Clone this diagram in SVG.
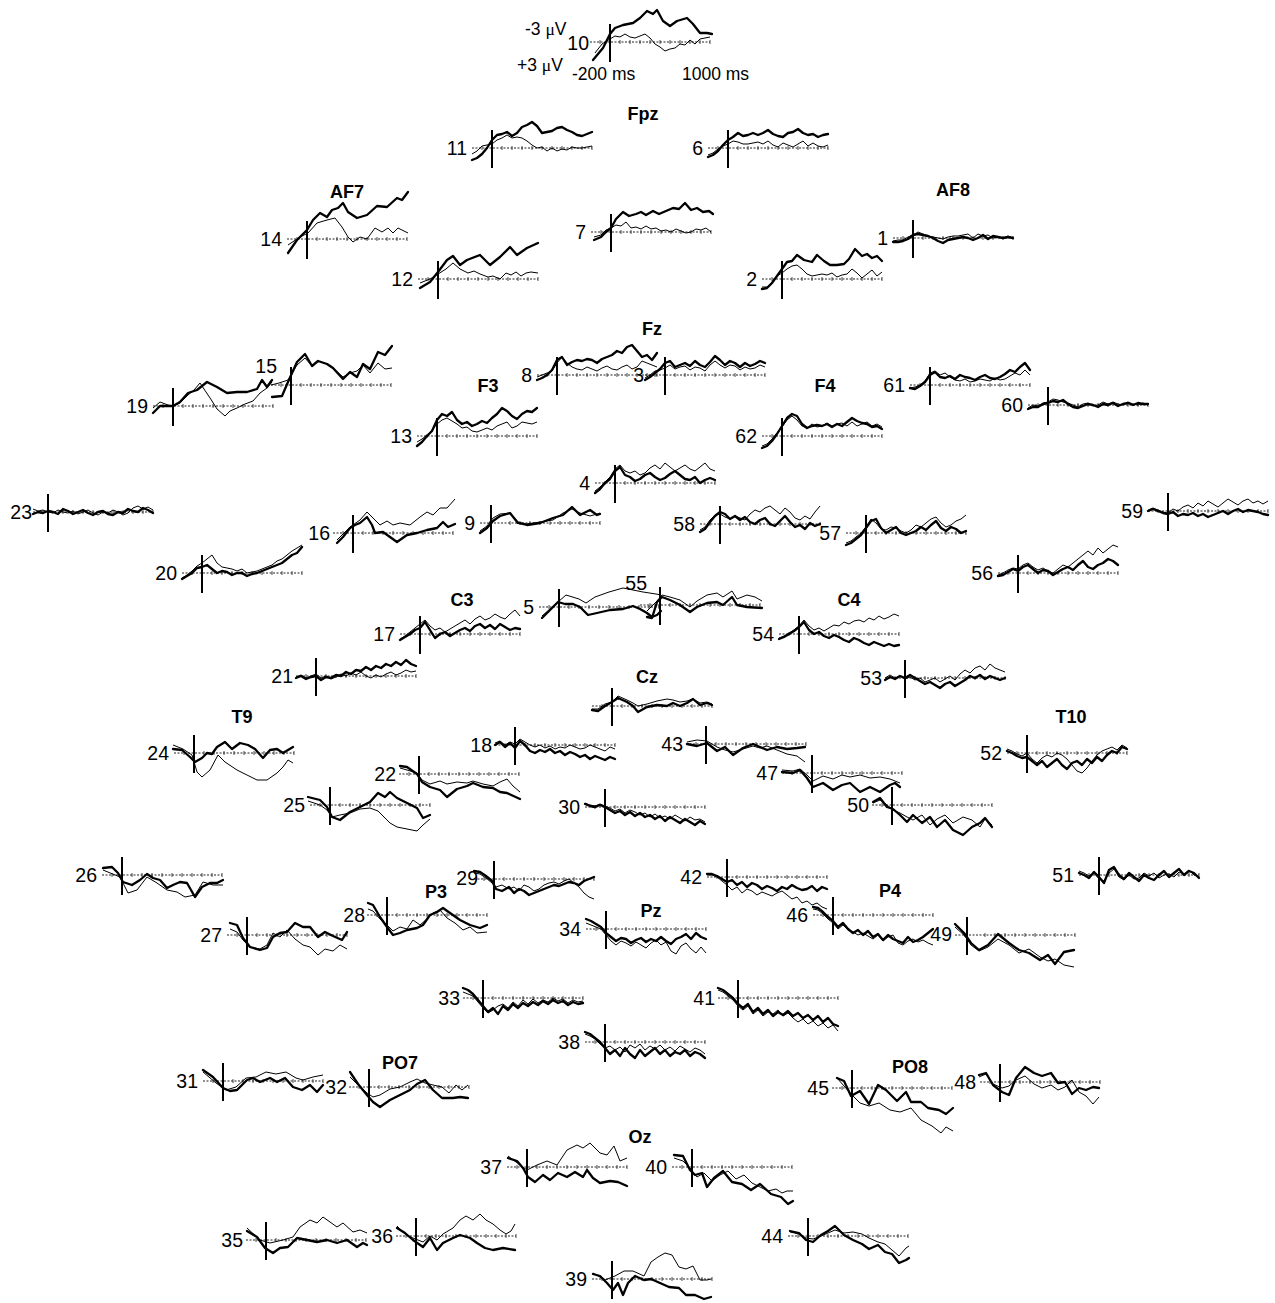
<svg xmlns="http://www.w3.org/2000/svg" xmlns:xlink="http://www.w3.org/1999/xlink" width="1275" height="1303" viewBox="0 0 1275 1303">
<style>
.k{fill:none;stroke:#000;stroke-width:2.3;stroke-linejoin:round;stroke-linecap:round}
.n{fill:none;stroke:#000;stroke-width:1;stroke-linejoin:round}
.l{font-family:"Liberation Sans",Arial,sans-serif;font-size:19.5px;text-anchor:end;fill:#000}
.h{font-family:"Liberation Sans",Arial,sans-serif;font-size:18px;font-weight:bold;text-anchor:middle;fill:#000}
.t{font-family:"Liberation Sans",Arial,sans-serif;font-size:17.5px;fill:#000}
.g{font-family:"Liberation Serif","Times New Roman",serif}
</style>
<defs>
<g id="b"><path d="M0 0H120" fill="none" stroke="#222" stroke-width="1" stroke-dasharray="2 1.5"/><path d="M10-2v4M30-2v4M40-2v4M50-2v4M60-2v4M70-2v4M80-2v4M90-2v4M100-2v4M110-2v4M120-2v4" stroke="#222" stroke-width="0.8"/></g>
<path id="z" d="M0-18V20" stroke="#000" stroke-width="2"/>
</defs>
<rect width="1275" height="1303" fill="#fff"/>
<g id="legend">
<text class="t" x="525" y="35">-3 <tspan class="g">μ</tspan>V</text>
<text class="t" x="517" y="71">+3 <tspan class="g">μ</tspan>V</text>
<text class="t" x="572" y="80">-200 ms</text>
<text class="t" x="682" y="80">1000 ms</text>
</g>
<g id="headlabels">
<text class="h" x="643" y="120">Fpz</text>
<text class="h" x="347" y="198">AF7</text>
<text class="h" x="953" y="196">AF8</text>
<text class="h" x="652" y="335">Fz</text>
<text class="h" x="488" y="392">F3</text>
<text class="h" x="825" y="392">F4</text>
<text class="h" x="462" y="606">C3</text>
<text class="h" x="849" y="606">C4</text>
<text class="h" x="647" y="683">Cz</text>
<text class="h" x="242" y="723">T9</text>
<text class="h" x="1071" y="723">T10</text>
<text class="h" x="436" y="898">P3</text>
<text class="h" x="651" y="917">Pz</text>
<text class="h" x="890" y="897">P4</text>
<text class="h" x="400" y="1069">PO7</text>
<text class="h" x="910" y="1073">PO8</text>
<text class="h" x="640" y="1143">Oz</text>
</g>
<g id="connectors"></g>
<g id="e10" transform="translate(590,42)"><use href="#b"/><use href="#z" x="20"/><path class="k" d="M3 18 13 6 20 -8 25 -14 33 -17 43 -19 50 -24 57 -31 63 -28 67 -32 73 -21 80 -16 87 -21 97 -24 103 -18 110 -9 117 -9 122 -8"/><path class="n" d="M5 11 12 2 20 -3 25 -6 30 -5 35 -8 40 -5 45 -4 50 -6 55 -8 60 -4 65 2 70 5 75 9 80 7 85 6 90 2 95 3 100 -2 105 2 110 -3 115 -4 120 -5"/><text class="l" x="-1" y="8">10</text></g>
<g id="e11" transform="translate(472,148)"><use href="#b"/><use href="#z" x="20"/><path class="k" d="M0 12 5 10 10 6 15 0 20 -8 25 -13 30 -14 35 -16 40 -12 45 -15 50 -21 55 -23 60 -26 65 -22 70 -15 75 -16 80 -17 85 -20 90 -21 95 -18 100 -16 105 -13 110 -12 115 -14 120 -16"/><path class="n" d="M0 6 5 3 10 -2 15 -3 20 -4 25 -8 30 -10 35 -13 40 -10 45 -11 50 -10 55 -7 60 -3 65 0 70 -1 75 3 80 0 85 3 90 1 95 2 100 -1 105 0 110 0 115 -1 120 -2"/><text class="l" x="-5" y="7">11</text></g>
<g id="e6" transform="translate(708,148)"><use href="#b"/><use href="#z" x="20"/><path class="k" d="M0 9 5 7 10 3 15 -3 20 -8 25 -11 30 -15 35 -12 40 -13 45 -15 50 -13 55 -15 60 -18 65 -14 70 -12 75 -11 80 -15 85 -16 90 -19 95 -15 100 -13 105 -14 110 -11 115 -13 120 -14"/><path class="n" d="M0 7 5 5 10 1 15 -2 20 -4 25 -7 30 -6 35 -4 40 -4 45 -5 50 -6 55 -4 60 -7 65 -3 70 -1 75 -5 80 -3 85 -1 90 -4 95 -7 100 -2 105 -5 110 -2 115 -1 120 -3"/><text class="l" x="-5" y="7">6</text></g>
<g id="e14" transform="translate(287,239)"><use href="#b"/><use href="#z" x="20"/><path class="k" d="M1 14 10 1 20 -9 26 -19 33 -26 40 -22 45 -29 51 -31 56 -36 61 -27 70 -21 80 -24 90 -33 100 -32 110 -41 115 -39 121 -47"/><path class="n" d="M1 6 13 -2 21 -6 30 -16 40 -19 48 -21 55 -12 61 -2 66 3 73 -2 80 0 88 -11 95 -7 101 -11 106 -6 111 -11 121 -6"/><text class="l" x="-5" y="7">14</text></g>
<g id="e12" transform="translate(418,279)"><use href="#b"/><use href="#z" x="20"/><path class="k" d="M2 9 12 3 20 -7 29 -19 35 -23 42 -14 49 -19 62 -24 72 -14 82 -22 92 -32 99 -24 109 -31 120 -36"/><path class="n" d="M2 4 12 0 20 -5 28 -10 35 -16 42 -10 50 -6 56 -8 62 -5 70 -2 75 -3 82 0 88 -6 93 -4 98 -7 103 -3 108 -6 113 -7 120 -6"/><text class="l" x="-5" y="7">12</text></g>
<g id="e7" transform="translate(591,232)"><use href="#b"/><use href="#z" x="20"/><path class="k" d="M3 8 10 5 15 0 20 -4 25 -13 32 -20 38 -16 45 -18 50 -20 55 -17 62 -21 68 -18 75 -21 82 -24 88 -23 94 -29 100 -22 106 -24 112 -20 118 -21 122 -18"/><path class="n" d="M3 5 10 3 15 -2 20 -4 25 -7 30 -6 35 -10 40 -4 45 -5 50 -3 55 -6 60 -3 65 -4 70 -1 75 -2 80 0 85 -3 90 -1 95 1 100 0 105 -3 110 -2 115 -4 120 0"/><text class="l" x="-5" y="7">7</text></g>
<g id="e1" transform="translate(893,238)"><use href="#b"/><use href="#z" x="20"/><path class="k" d="M0 4 5 4 10 3 15 1 20 -3 25 -4 30 -3 35 -2 40 0 45 3 50 5 55 2 60 1 65 0 70 -1 75 0 80 2 85 0 90 -3 95 1 100 -2 105 -1 110 0 115 -1 120 0"/><path class="n" d="M0 3 5 2 10 2 15 -1 20 -3 25 -6 30 -4 35 -2 40 -1 45 0 50 1 55 -1 60 -2 65 -2 70 -3 75 -4 80 0 85 -4 90 -2 95 -3 100 0 105 -1 110 0 115 -2 120 0"/><text class="l" x="-5" y="7">1</text></g>
<g id="e2" transform="translate(762,279)"><use href="#b"/><use href="#z" x="20"/><path class="k" d="M0 10 5 9 10 4 15 -3 20 -10 25 -17 30 -18 35 -24 42 -19 50 -17 55 -24 62 -18 68 -14 75 -14 82 -15 87 -20 93 -30 100 -23 105 -25 110 -21 115 -23 120 -18"/><path class="n" d="M0 8 5 8 10 3 15 -3 20 -6 25 -10 30 -13 35 -14 40 -10 45 -5 50 -3 55 -4 60 -5 65 -4 70 -6 75 -2 80 -4 85 -5 90 -10 95 -6 100 -1 105 -5 110 -9 115 -3 120 -7"/><text class="l" x="-5" y="7">2</text></g>
<g id="e19" transform="translate(153,406)"><use href="#b"/><use href="#z" x="20"/><path class="k" d="M0 7 7 0 20 0 27 -4 35 -13 44 -16 54 -24 64 -19 74 -13 84 -14 94 -14 104 -17 109 -26 114 -19 119 -26"/><path class="n" d="M0 2 7 -4 15 -1 20 0 27 -3 35 -11 41 -16 47 -23 53 -14 59 -5 64 3 72 10 77 5 84 2 92 -2 100 -5 107 -13 114 -18 119 -24"/><text class="l" x="-5" y="7">19</text></g>
<g id="e15" transform="translate(271,385)"><use href="#b"/><use href="#z" x="20"/><path class="k" d="M1 12 11 11 17 -3 26 -23 34 -31 41 -19 47 -24 56 -21 62 -17 72 -6 79 -13 86 -8 92 -21 99 -16 107 -33 114 -30 121 -39"/><path class="n" d="M0 0 8 -2 17 -5 26 -20 34 -27 41 -19 47 -24 56 -21 62 -17 72 -8 79 -12 86 -14 92 -20 99 -12 107 -22 114 -16 121 -17"/><text class="l" x="6" y="-12">15</text></g>
<g id="e8" transform="translate(537,375)"><use href="#b"/><use href="#z" x="20"/><path class="k" d="M0 5 5 3 10 0 15 -5 20 -15 25 -18 30 -10 35 -13 40 -15 45 -14 50 -16 55 -15 60 -12 65 -16 70 -18 75 -20 80 -24 85 -22 90 -28 95 -30 100 -24 105 -18 110 -20 115 -15 120 -22"/><path class="n" d="M0 2 5 0 10 -2 15 -4 20 -12 25 -18 30 -12 35 -8 40 -6 45 -5 50 -8 55 -6 60 -4 65 -7 70 -9 75 -6 80 -5 85 -8 90 -10 95 -6 100 -8 105 -14 110 -12 115 -10 120 -8"/><text class="l" x="-5" y="7">8</text></g>
<g id="e3" transform="translate(645,375)"><use href="#b"/><use href="#z" x="20"/><path class="k" d="M0 5 5 2 10 -2 15 -6 20 -12 25 -14 30 -8 35 -10 40 -12 45 -9 50 -14 55 -10 60 -8 65 -13 70 -19 75 -15 80 -10 85 -14 90 -12 95 -8 100 -12 105 -9 110 -11 115 -14 120 -12"/><path class="n" d="M0 3 5 0 10 -4 15 -5 20 -7 25 -10 30 -6 35 -8 40 -9 45 -5 50 -8 55 -7 60 -4 65 -10 70 -14 75 -10 80 -7 85 -10 90 -9 95 -5 100 -8 105 -6 110 -7 115 -10 120 -8"/><text class="l" x="-1" y="7">3</text></g>
<g id="e61" transform="translate(910,385)"><use href="#b"/><use href="#z" x="20"/><path class="k" d="M0 3 5 4 10 1 15 -3 20 -10 25 -13 30 -8 35 -7 40 -9 45 -6 50 -10 55 -8 60 -7 65 -5 70 -8 75 -10 80 -7 85 -6 90 -8 95 -11 100 -15 105 -13 110 -18 115 -22 120 -15"/><path class="n" d="M0 3 5 2 10 0 15 -4 20 -12 25 -14 30 -10 35 -12 40 -8 45 -5 50 -4 55 -6 60 -3 65 -4 70 -6 75 -5 80 -4 85 -7 90 -5 95 -6 100 -9 105 -12 110 -10 115 -15 120 -10"/><text class="l" x="-5" y="7">61</text></g>
<g id="e60" transform="translate(1028,405)"><use href="#b"/><use href="#z" x="20"/><path class="k" d="M0 4 5 2 10 2 15 -1 20 -2 25 -4 30 -3 35 -5 40 -1 45 2 50 3 55 1 60 -1 65 0 70 2 75 -1 80 0 85 -2 90 1 95 -1 100 -2 105 0 110 -2 115 -1 120 -1"/><path class="n" d="M0 3 5 0 10 1 15 -2 20 -3 25 -6 30 -5 35 -3 40 -2 45 0 50 2 55 -1 60 -2 65 1 70 0 75 -3 80 -1 85 -3 90 -1 95 0 100 -3 105 -1 110 0 115 -2 120 0"/><text class="l" x="-5" y="7">60</text></g>
<g id="e13" transform="translate(417,436)"><use href="#b"/><use href="#z" x="20"/><path class="k" d="M0 10 5 6 10 0 15 -5 20 -16 25 -22 30 -20 35 -24 40 -16 45 -12 50 -14 55 -10 60 -12 65 -15 70 -13 75 -18 80 -22 85 -28 90 -25 95 -20 100 -17 105 -22 110 -25 115 -24 120 -28"/><path class="n" d="M0 6 5 3 10 -1 15 -6 20 -12 25 -16 30 -18 35 -15 40 -12 45 -8 50 -9 55 -5 60 -4 65 -6 70 -8 75 -6 80 -10 85 -12 90 -14 95 -8 100 -10 105 -14 110 -13 115 -12 120 -14"/><text class="l" x="-5" y="7">13</text></g>
<g id="e62" transform="translate(762,436)"><use href="#b"/><use href="#z" x="20"/><path class="k" d="M0 12 5 10 10 5 15 -2 20 -10 25 -18 30 -22 35 -20 40 -12 45 -8 50 -10 55 -11 60 -10 65 -12 70 -9 75 -12 80 -10 85 -14 90 -18 95 -15 100 -13 105 -12 110 -9 115 -10 120 -7"/><path class="n" d="M0 10 5 8 10 3 15 -3 20 -9 25 -16 30 -20 35 -16 40 -10 45 -8 50 -12 55 -9 60 -10 65 -13 70 -10 75 -12 80 -13 85 -10 90 -14 95 -10 100 -12 105 -14 110 -10 115 -12 120 -9"/><text class="l" x="-5" y="7">62</text></g>
<g id="e4" transform="translate(595,483)"><use href="#b"/><use href="#z" x="20"/><path class="k" d="M0 10 5 6 10 0 15 -4 20 -12 25 -16 30 -8 35 -6 40 -2 45 -4 50 -8 55 -10 60 -6 65 -3 70 -5 75 -9 80 -12 85 -8 90 -4 95 -3 100 -6 105 0 110 -3 115 -5 120 -3"/><path class="n" d="M0 8 5 4 10 -1 15 -6 20 -14 25 -18 30 -12 35 -10 40 -12 45 -8 50 -10 55 -15 60 -18 65 -14 70 -20 75 -16 80 -12 85 -15 90 -18 95 -14 100 -12 105 -16 110 -20 115 -14 120 -12"/><text class="l" x="-5" y="7">4</text></g>
<g id="e23" transform="translate(33,512)"><use href="#b"/><use href="#z" x="15"/><path class="k" d="M0 2 5 0 10 1 15 -1 20 0 25 2 30 -3 35 -1 40 2 45 0 50 -2 55 1 60 3 65 0 70 -1 75 2 80 3 85 0 90 1 95 -3 100 -1 105 0 110 -4 115 -2 120 1"/><path class="n" d="M0 -3 5 -1 10 -2 15 0 20 1 25 -2 30 0 35 1 40 -1 45 2 50 0 55 -2 60 1 65 3 70 0 75 1 80 -2 85 0 90 3 95 1 100 -4 105 -6 110 -3 115 -5 120 -2"/><text class="l" x="-1" y="7">23</text></g>
<g id="e59" transform="translate(1148,511)"><use href="#b"/><use href="#z" x="20"/><path class="k" d="M0 0 5 -2 10 0 15 2 20 3 25 1 30 5 35 3 40 4 45 2 50 5 55 3 60 6 65 4 70 2 75 0 80 3 85 0 90 -2 95 1 100 -1 105 0 110 1 115 3 120 4"/><path class="n" d="M0 -1 5 -3 10 -1 15 1 20 2 25 -2 30 0 35 -4 40 -6 45 -3 50 -8 55 -5 60 -10 65 -7 70 -4 75 -8 80 -12 85 -9 90 -6 95 -10 100 -12 105 -8 110 -10 115 -7 120 -10"/><text class="l" x="-5" y="7">59</text></g>
<g id="e16" transform="translate(333,533)"><use href="#b"/><use href="#z" x="20"/><path class="k" d="M4 10 10 4 17 -5 22 -8 27 -10 34 -16 39 -8 42 0 50 -1 57 4 64 9 74 2 84 0 94 -3 104 -5 110 -11 115 -6 122 -9"/><path class="n" d="M4 7 17 -6 27 -13 34 -21 39 -16 47 -8 54 -12 60 -8 67 -10 77 -8 87 -16 94 -21 100 -18 107 -25 114 -25 122 -34"/><text class="l" x="-3" y="7">16</text></g>
<g id="e9" transform="translate(480,523)"><use href="#b"/><use href="#z" x="11"/><path class="k" d="M0 10 7 5 13 -2 20 -7 30 -10 38 0 47 2 60 0 73 -5 83 -8 92 -16 100 -8 110 -13 117 -8 120 -9"/><path class="n" d="M0 8 7 3 13 -5 20 -9 30 -10 38 -1 47 1 60 -1 73 -3 83 -10 92 -14 100 -10 110 -7 117 -9 120 -10"/><text class="l" x="-5" y="7">9</text></g>
<g id="e58" transform="translate(700,524)"><use href="#b"/><use href="#z" x="20"/><path class="k" d="M0 8 5 5 10 -2 15 -8 20 -12 25 -10 30 -5 35 -8 40 -4 45 -7 50 -2 55 0 60 -4 65 -6 70 0 75 2 80 -3 85 -8 90 -2 95 3 100 1 105 5 110 -1 115 2 120 0"/><path class="n" d="M0 6 5 3 10 -4 15 -9 20 -10 25 -7 30 -5 35 -8 40 -6 45 -4 50 -10 55 -14 60 -12 65 -16 70 -18 75 -14 80 -10 85 -16 90 -12 95 -6 100 -4 105 -8 110 -5 115 -12 120 -18"/><text class="l" x="-5" y="7">58</text></g>
<g id="e57" transform="translate(846,533)"><use href="#b"/><use href="#z" x="20"/><path class="k" d="M0 12 5 10 10 6 15 2 20 -5 25 -12 30 -14 35 -5 40 0 45 -3 50 -6 55 0 60 2 65 0 70 -2 75 -6 80 -3 85 -8 90 -12 95 -5 100 -2 105 -6 110 -4 115 0 120 -2"/><path class="n" d="M0 10 5 8 10 4 15 0 20 -6 25 -14 30 -10 35 -4 40 -3 45 -6 50 -5 55 -2 60 0 65 -3 70 -8 75 -6 80 -10 85 -14 90 -16 95 -10 100 -6 105 -8 110 -12 115 -14 120 -18"/><text class="l" x="-5" y="7">57</text></g>
<g id="e20" transform="translate(182,573)"><use href="#b"/><use href="#z" x="20"/><path class="k" d="M0 6 5 3 10 0 15 -5 20 -6 25 -8 30 -4 35 0 40 -2 45 -1 50 2 55 0 60 0 65 3 70 1 75 0 80 -2 85 -4 90 -6 95 -8 100 -10 105 -14 110 -18 115 -20 120 -26"/><path class="n" d="M0 5 5 2 10 -2 15 -7 20 -10 25 -14 30 -18 35 -10 40 -6 45 -5 50 -4 55 -2 60 -4 65 0 70 -1 75 -2 80 -4 85 -6 90 -8 95 -12 100 -14 105 -18 110 -22 115 -25 120 -28"/><text class="l" x="-5" y="7">20</text></g>
<g id="e56" transform="translate(998,573)"><use href="#b"/><use href="#z" x="20"/><path class="k" d="M0 3 5 2 10 -1 15 -4 20 -2 25 -6 30 -8 35 -4 40 0 45 -3 50 -2 55 2 60 -1 65 -4 70 -6 75 -3 80 -8 85 -12 90 -6 95 -4 100 -8 105 -10 110 -14 115 -12 120 -8"/><path class="n" d="M0 2 5 0 10 -3 15 -5 20 -4 25 -8 30 -10 35 -6 40 -3 45 -5 50 -2 55 0 60 -4 65 -8 70 -6 75 -10 80 -14 85 -18 90 -22 95 -18 100 -25 105 -20 110 -24 115 -28 120 -26"/><text class="l" x="-5" y="7">56</text></g>
<g id="e5" transform="translate(539,607)"><use href="#b"/><use href="#z" x="20"/><path class="k" d="M3 11 11 3 19 -5 26 -3 34 -3 41 0 49 8 58 6 71 3 84 2 94 -1 101 2 108 6 113 10 118 8 122 4"/><path class="n" d="M3 9 19 -5 27 -12 40 -8 47 -4 56 -10 70 -15 84 -19 94 -17 104 -15 117 -13 122 -12"/><text class="l" x="-5" y="7">5</text></g>
<g id="e55" transform="translate(640,605)"><use href="#b"/><use href="#z" x="20"/><path class="k" d="M7 12 12 13 17 -3 22 -8 30 -5 40 0 50 7 57 2 67 -2 77 -3 83 0 92 -8 97 0 107 2 122 3"/><path class="n" d="M7 6 17 -4 22 -10 30 -8 40 -5 50 2 57 -4 67 -10 77 -12 83 -8 92 -14 97 -6 107 -10 115 -8 122 -4"/><text class="l" x="7" y="-15">55</text></g>
<g id="e17" transform="translate(400,634)"><use href="#b"/><use href="#z" x="20"/><path class="k" d="M0 6 5 3 10 0 15 -4 20 -6 25 -12 30 -4 35 4 40 0 45 -2 50 2 55 -1 60 -4 65 -6 70 -3 75 -8 80 -10 85 -6 90 -9 95 -5 100 -10 105 -7 110 -4 115 -6 120 -5"/><path class="n" d="M0 5 5 2 10 -2 15 -6 20 -10 25 -14 30 -8 35 -4 40 -6 45 -2 50 -5 55 -8 60 -11 65 -14 70 -10 75 -15 80 -18 85 -14 90 -16 95 -20 100 -17 105 -15 110 -20 115 -24 120 -18"/><text class="l" x="-5" y="7">17</text></g>
<g id="e54" transform="translate(779,634)"><use href="#b"/><use href="#z" x="20"/><path class="k" d="M0 5 5 3 10 0 15 -3 20 -7 25 -12 30 -4 35 0 40 -2 45 2 50 4 55 1 60 3 65 6 70 8 75 4 80 6 85 9 90 11 95 8 100 10 105 12 110 10 115 12 120 11"/><path class="n" d="M0 4 5 2 10 -1 15 -4 20 -8 25 -14 30 -8 35 -4 40 -6 45 -3 50 -6 55 -9 60 -8 65 -12 70 -10 75 -13 80 -14 85 -12 90 -16 95 -14 100 -18 105 -15 110 -17 115 -20 120 -18"/><text class="l" x="-5" y="7">54</text></g>
<g id="e21" transform="translate(296,676)"><use href="#b"/><use href="#z" x="20"/><path class="k" d="M0 2 5 0 10 3 15 1 20 0 25 4 30 1 35 2 40 -1 45 0 50 -4 55 -2 60 -6 65 -5 70 -9 75 -6 80 -10 85 -8 90 -12 95 -10 100 -14 105 -11 110 -16 115 -12 120 -10"/><path class="n" d="M0 1 5 -1 10 2 15 0 20 -2 25 2 30 0 35 3 40 1 45 -2 50 0 55 -3 60 -1 65 -4 70 0 75 2 80 -1 85 1 90 -2 95 -4 100 -1 105 -3 110 -6 115 -4 120 -5"/><text class="l" x="-3" y="7">21</text></g>
<g id="e53" transform="translate(885,678)"><use href="#b"/><use href="#z" x="20"/><path class="k" d="M0 2 5 -1 10 1 15 -2 20 0 25 -3 30 0 35 3 40 6 45 4 50 7 55 10 60 6 65 4 70 8 75 5 80 2 85 -2 90 0 95 -3 100 1 105 -2 110 0 115 2 120 0"/><path class="n" d="M0 0 5 -3 10 0 15 -2 20 1 25 -1 30 2 35 0 40 4 45 2 50 0 55 4 60 1 65 -2 70 2 75 -4 80 -8 85 -5 90 -10 95 -12 100 -8 105 -14 110 -10 115 -8 120 -6"/><text class="l" x="-3" y="7">53</text></g>
<g id="eCz" transform="translate(592,706)"><use href="#b"/><use href="#z" x="20"/><path class="k" d="M0 4 6 5 13 0 20 -4 26 -8 35 -4 41 0 46 6 55 1 65 -1 75 0 81 -3 88 0 95 -3 101 -7 108 -1 115 -3 120 -1"/><path class="n" d="M0 3 6 3 13 -2 20 -4 26 -10 35 -6 41 -3 46 0 55 -2 65 -5 75 -7 81 -6 88 -4 95 -5 101 -7 108 -3 115 -4 120 -2"/></g>
<g id="e24" transform="translate(174,753)"><use href="#b"/><use href="#z" x="20"/><path class="k" d="M-1 -4 8 -3 16 4 21 9 28 5 33 0 38 1 43 -6 51 -11 58 -4 66 -10 74 -8 81 -4 89 5 96 -3 103 -4 109 0 119 -6"/><path class="n" d="M-1 -8 9 -4 18 2 23 19 28 24 36 17 44 2 51 9 63 17 73 22 83 27 93 27 103 20 109 14 114 7 119 10"/><text class="l" x="-5" y="7">24</text></g>
<g id="e22" transform="translate(399,774)"><use href="#b"/><use href="#z" x="20"/><path class="k" d="M1 -8 8 -7 18 0 23 8 31 13 41 16 48 23 58 15 68 12 74 9 84 13 94 14 101 18 108 19 121 25"/><path class="n" d="M1 -6 8 -4 18 -1 23 6 31 10 41 7 48 10 58 8 68 9 74 7 84 10 94 12 101 8 108 5 114 12 121 18"/><text class="l" x="-3" y="7">22</text></g>
<g id="e25" transform="translate(310,805)"><use href="#b"/><use href="#z" x="20"/><path class="k" d="M-2 -8 10 -5 17 2 22 12 30 15 40 7 50 2 60 -3 68 -12 75 -8 80 -13 87 -7 97 -2 107 3 113 13 120 10"/><path class="n" d="M-2 -4 10 0 17 5 22 12 30 10 40 8 50 4 60 3 68 6 75 13 80 18 87 22 97 24 107 26 113 20 120 14"/><text class="l" x="-5" y="7">25</text></g>
<g id="e18" transform="translate(495,745)"><use href="#b"/><use href="#z" x="20"/><path class="k" d="M0 0 5 -3 10 2 15 -2 20 3 25 -4 30 0 35 6 40 8 45 5 50 7 55 4 60 8 65 6 70 10 75 7 80 9 85 12 90 10 95 14 100 11 105 13 110 15 115 12 120 14"/><path class="n" d="M0 -2 5 -4 10 0 15 -3 20 -1 25 -6 30 -3 35 0 40 2 45 0 50 3 55 1 60 4 65 2 70 3 75 0 80 2 85 4 90 3 95 0 100 2 105 4 110 6 115 2 120 4"/><text class="l" x="-3" y="7">18</text></g>
<g id="e43" transform="translate(686,744)"><use href="#b"/><use href="#z" x="20"/><path class="k" d="M1 0 11 2 21 -1 31 7 39 3 47 11 57 4 67 0 74 3 81 6 91 3 101 5 111 4 119 3"/><path class="n" d="M1 -2 11 -4 21 -3 31 3 39 6 47 8 57 5 67 2 74 4 81 2 91 6 101 10 111 12 119 18"/><text class="l" x="-3" y="7">43</text></g>
<g id="e47" transform="translate(782,773)"><use href="#b"/><use href="#z" x="30"/><path class="k" d="M0 -1 11 0 18 -3 25 5 31 14 41 10 51 17 60 12 68 10 78 19 88 14 98 19 108 12 113 10 118 14"/><path class="n" d="M0 -3 11 -2 18 -4 25 2 31 8 41 3 51 6 60 2 68 4 78 2 88 5 98 4 108 6 113 8 118 10"/><text class="l" x="-4" y="7">47</text></g>
<g id="e50" transform="translate(872,805)"><use href="#b"/><use href="#z" x="20"/><path class="k" d="M1 -3 8 -7 15 2 21 4 28 10 35 17 41 10 50 18 58 12 65 22 73 15 81 25 91 30 100 22 108 18 113 13 120 22"/><path class="n" d="M1 -2 8 -5 15 0 21 5 28 8 35 12 41 15 50 10 58 20 65 14 73 10 81 18 91 12 100 15 108 22 113 14 120 20"/><text class="l" x="-3" y="7">50</text></g>
<g id="e52" transform="translate(1007,753)"><use href="#b"/><use href="#z" x="20"/><path class="k" d="M0 -2 5 0 10 3 15 5 20 4 25 8 30 12 35 8 40 14 45 10 50 6 55 12 60 16 65 10 70 8 75 12 80 6 85 10 90 4 95 8 100 2 105 -2 110 0 115 -6 120 -4"/><path class="n" d="M0 -4 5 -2 10 1 15 3 20 0 25 6 30 10 35 5 40 2 45 4 50 0 55 2 60 6 65 12 70 18 75 20 80 15 85 8 90 2 95 -2 100 -4 105 -6 110 -3 115 -8 120 -5"/><text class="l" x="-5" y="7">52</text></g>
<g id="e30" transform="translate(585,807)"><use href="#b"/><use href="#z" x="20"/><path class="k" d="M0 -3 5 -1 10 0 15 -2 20 0 25 3 30 6 35 4 40 8 45 5 50 9 55 6 60 10 65 8 70 12 75 9 80 14 85 10 90 13 95 16 100 12 105 15 110 18 115 14 120 17"/><path class="n" d="M0 -4 5 -2 10 -1 15 -3 20 -1 25 1 30 4 35 2 40 6 45 3 50 5 55 8 60 6 65 10 70 7 75 11 80 9 85 12 90 8 95 11 100 14 105 10 110 13 115 12 120 15"/><text class="l" x="-5" y="7">30</text></g>
<g id="e26" transform="translate(102,875)"><use href="#b"/><use href="#z" x="20"/><path class="k" d="M1 -7 10 -8 16 -2 21 7 30 10 38 5 45 -1 51 3 58 5 65 13 71 10 78 7 85 8 93 22 100 12 108 8 115 8 121 5"/><path class="n" d="M1 -5 18 2 26 18 35 15 45 2 55 8 65 15 75 17 83 22 93 20 101 7 111 10 121 10"/><text class="l" x="-5" y="7">26</text></g>
<g id="e27" transform="translate(227,935)"><use href="#b"/><use href="#z" x="20"/><path class="k" d="M3 -12 10 -10 16 3 23 12 33 15 40 13 46 2 53 -2 60 -3 68 -12 76 -8 83 -8 91 2 98 -3 106 1 115 5 120 -3"/><path class="n" d="M3 -6 10 -3 16 5 23 12 33 14 40 10 46 -2 53 2 60 -5 68 4 76 10 83 12 91 20 98 14 106 16 113 10 120 14"/><text class="l" x="-5" y="7">27</text></g>
<g id="e28" transform="translate(367,915)"><use href="#b"/><use href="#z" x="20"/><path class="k" d="M1 -12 6 -10 13 2 20 12 26 20 33 18 40 15 50 13 56 10 63 0 70 -3 76 -7 83 -2 93 5 103 10 113 13 120 10"/><path class="n" d="M1 -6 6 -4 13 4 20 10 26 16 33 12 40 14 46 5 53 10 60 4 66 -2 73 -5 80 3 88 8 96 15 103 12 110 18 120 17"/><text class="l" x="-2" y="7">28</text></g>
<g id="e29" transform="translate(474,879)"><use href="#b"/><use href="#z" x="20"/><path class="k" d="M0 -8 6 -7 12 -3 18 2 22 10 28 12 35 8 40 14 45 10 50 12 55 16 60 14 65 12 70 10 75 8 80 6 85 7 90 5 95 3 100 4 105 6 110 2 115 0 120 -2"/><path class="n" d="M0 -6 6 -5 12 -1 18 4 22 8 28 6 35 10 40 8 45 12 50 6 55 8 60 12 65 10 70 6 75 4 80 3 85 5 90 2 95 0 100 4 105 8 110 14 115 18 120 20"/><text class="l" x="4" y="6">29</text></g>
<g id="e34" transform="translate(586,929)"><use href="#b"/><use href="#z" x="20"/><path class="k" d="M0 -10 5 -8 10 -5 15 -2 20 4 25 8 30 12 35 9 40 10 45 14 50 11 55 9 60 13 65 10 70 12 75 8 80 12 85 15 90 10 95 8 100 5 105 10 110 4 115 8 120 10"/><path class="n" d="M0 -6 5 -4 10 -2 15 0 20 6 25 12 30 16 35 12 40 14 45 17 50 13 55 16 60 19 65 14 70 11 75 16 80 13 85 22 90 25 95 17 100 14 105 20 110 24 115 18 120 24"/><text class="l" x="-5" y="7">34</text></g>
<g id="e42" transform="translate(707,877)"><use href="#b"/><use href="#z" x="20"/><path class="k" d="M0 -3 5 -3 10 -1 15 2 20 5 25 3 30 8 35 5 40 10 45 6 50 8 55 12 60 9 65 11 70 14 75 10 80 12 85 8 90 11 95 13 100 12 105 9 110 14 115 10 120 12"/><path class="n" d="M0 -2 5 -2 10 0 15 4 20 8 25 13 30 10 35 16 40 12 45 14 50 18 55 15 60 17 65 19 70 16 75 14 80 18 85 22 90 20 95 26 100 24 105 28 110 26 115 30 120 32"/><text class="l" x="-5" y="7">42</text></g>
<g id="e51" transform="translate(1079,875)"><use href="#b"/><use href="#z" x="20"/><path class="k" d="M0 -2 5 0 10 3 15 -3 20 2 25 8 30 -5 35 -8 40 0 45 4 50 -2 55 2 60 6 65 0 70 3 75 5 80 0 85 -4 90 2 95 -2 100 -6 105 0 110 -4 115 -2 120 3"/><path class="n" d="M0 -4 5 -2 10 1 15 -2 20 4 25 6 30 -2 35 -6 40 2 45 5 50 0 55 4 60 3 65 -2 70 1 75 -2 80 3 85 0 90 -1 95 2 100 -3 105 -1 110 -5 115 0 120 2"/><text class="l" x="-5" y="7">51</text></g>
<g id="e46" transform="translate(813,915)"><use href="#b"/><use href="#z" x="20"/><path class="k" d="M0 -8 5 -7 10 -3 15 2 20 6 25 12 30 8 35 14 40 18 45 15 50 20 55 16 60 22 65 19 70 25 75 20 80 24 85 26 90 28 95 22 100 27 105 25 110 22 115 18 120 14"/><path class="n" d="M0 -6 5 -5 10 -1 15 4 20 8 25 14 30 10 35 15 40 17 45 20 50 18 55 21 60 24 65 20 70 26 75 22 80 20 85 28 90 30 95 26 100 24 105 27 110 25 115 28 120 30"/><text class="l" x="-5" y="7">46</text></g>
<g id="e49" transform="translate(955,935)"><use href="#b"/><use href="#z" x="12"/><path class="k" d="M0 -11 9 -2 16 8 24 15 33 10 43 -1 54 8 64 15 74 18 85 25 93 20 100 29 109 17 119 15"/><path class="n" d="M0 -8 9 0 16 10 24 16 33 12 43 4 54 10 64 18 74 14 85 22 93 26 100 24 109 30 119 32"/><text class="l" x="-3" y="6">49</text></g>
<g id="e33" transform="translate(463,998)"><use href="#b"/><use href="#z" x="20"/><path class="k" d="M0 -10 5 -8 10 -4 15 2 20 8 25 14 30 10 35 16 40 8 45 12 50 6 55 10 60 5 65 8 70 4 75 7 80 3 85 6 90 2 95 5 100 3 105 7 110 4 115 6 120 5"/><path class="n" d="M0 -6 5 -4 10 -2 15 4 20 10 25 15 30 12 35 8 40 6 45 10 50 4 55 8 60 2 65 6 70 1 75 5 80 2 85 4 90 0 95 3 100 1 105 5 110 2 115 4 120 3"/><text class="l" x="-3" y="7">33</text></g>
<g id="e41" transform="translate(718,998)"><use href="#b"/><use href="#z" x="20"/><path class="k" d="M0 -10 5 -8 10 -4 15 0 20 6 25 10 30 6 35 14 40 10 45 16 50 12 55 18 60 14 65 17 70 13 75 18 80 15 85 20 90 17 95 22 100 18 105 24 110 20 115 26 120 28"/><path class="n" d="M0 -8 5 -6 10 -2 15 2 20 8 25 12 30 8 35 16 40 12 45 18 50 14 55 16 60 12 65 18 70 15 75 20 80 24 85 21 90 26 95 23 100 28 105 25 110 30 115 27 120 33"/><text class="l" x="-3" y="7">41</text></g>
<g id="e38" transform="translate(585,1042)"><use href="#b"/><use href="#z" x="20"/><path class="k" d="M0 -10 5 -8 10 -4 15 0 20 6 25 12 30 8 35 14 40 6 45 12 50 16 55 8 60 14 65 10 70 6 75 12 80 8 85 14 90 10 95 12 100 8 105 14 110 10 115 12 120 16"/><path class="n" d="M0 -8 5 -6 10 -3 15 2 20 6 25 4 30 8 35 5 40 10 45 3 50 6 55 2 60 8 65 4 70 7 75 3 80 8 85 5 90 9 95 4 100 7 105 10 110 6 115 8 120 12"/><text class="l" x="-5" y="7">38</text></g>
<g id="e31" transform="translate(203,1081)"><use href="#b"/><use href="#z" x="20"/><path class="k" d="M0 -11 10 -4 20 7 27 10 34 9 44 -1 50 -3 57 1 67 -3 74 1 82 -3 90 6 99 9 107 4 114 11 120 4"/><path class="n" d="M0 -9 13 2 23 9 33 6 43 -3 53 -4 63 -9 73 -7 83 -9 93 -3 100 -1 110 -4 120 -6"/><text class="l" x="-5" y="7">31</text></g>
<g id="e32" transform="translate(349,1087)"><use href="#b"/><use href="#z" x="20"/><path class="k" d="M1 -15 9 -3 18 8 24 15 31 20 41 13 51 8 61 3 68 -3 76 -7 84 3 93 11 104 11 111 10 119 11"/><path class="n" d="M1 -10 9 -2 18 6 24 10 31 8 41 2 51 0 61 -5 68 -8 76 -4 84 -2 93 0 100 6 107 -2 113 3 119 -2"/><text class="l" x="-2" y="7">32</text></g>
<g id="e45" transform="translate(832,1088)"><use href="#b"/><use href="#z" x="20"/><path class="k" d="M5 -10 12 -7 19 8 28 3 37 16 46 -3 54 2 65 13 74 4 79 14 89 14 96 20 107 22 114 26 121 20"/><path class="n" d="M5 -10 19 6 28 15 37 18 47 15 58 22 68 24 79 20 89 32 100 38 109 45 114 39 121 43"/><text class="l" x="-3" y="7">45</text></g>
<g id="e48" transform="translate(980,1082)"><use href="#b"/><use href="#z" x="20"/><path class="k" d="M-1 -7 6 -9 13 3 22 10 29 13 36 -4 45 -15 54 -9 62 -6 71 -9 78 1 85 0 92 12 99 6 106 8 113 5 119 6"/><path class="n" d="M-1 -5 6 -8 13 2 22 6 29 4 36 -2 45 -6 54 2 62 6 71 3 78 8 85 5 92 -2 99 10 106 14 113 22 119 15"/><text class="l" x="-4" y="7">48</text></g>
<g id="e37" transform="translate(507,1167)"><use href="#b"/><use href="#z" x="20"/><path class="k" d="M1 -9 10 -6 16 1 21 10 28 15 36 8 43 13 51 6 60 10 68 5 76 10 80 3 86 11 93 16 103 14 111 15 120 19"/><path class="n" d="M1 -11 13 -2 20 3 30 -2 40 -6 50 -2 60 -17 70 -22 76 -19 83 -24 93 -14 100 -12 107 -21 113 -6 120 -9"/><text class="l" x="-5" y="7">37</text></g>
<g id="e40" transform="translate(672,1167)"><use href="#b"/><use href="#z" x="20"/><path class="k" d="M2 -12 11 -11 18 3 23 8 30 6 35 20 42 11 51 4 60 15 70 17 79 23 88 17 99 27 109 30 116 37 121 34"/><path class="n" d="M2 -9 11 -6 18 1 25 10 32 6 40 14 48 8 56 4 64 12 72 8 80 16 88 20 96 24 104 22 110 26 115 24 121 24"/><text class="l" x="-5" y="7">40</text></g>
<g id="e35" transform="translate(246,1240)"><use href="#b"/><use href="#z" x="20"/><path class="k" d="M1 -9 11 -3 19 8 27 13 34 8 42 7 51 -2 61 0 71 2 81 0 91 3 101 0 111 7 117 3 121 5"/><path class="n" d="M1 -12 14 0 24 3 37 0 47 -3 54 -13 64 -20 71 -17 77 -23 84 -18 91 -13 97 -17 107 -8 114 -10 121 -7"/><text class="l" x="-3" y="7">35</text></g>
<g id="e36" transform="translate(396,1236)"><use href="#b"/><use href="#z" x="20"/><path class="k" d="M1 -8 9 -3 17 4 27 11 34 2 41 14 47 7 57 2 64 -1 74 2 81 7 89 12 97 14 107 12 119 14"/><path class="n" d="M1 -10 9 -2 17 2 27 6 34 0 41 4 47 -2 57 -8 64 -16 70 -20 77 -16 84 -22 90 -16 97 -12 104 -6 110 -2 115 -5 119 -12"/><text class="l" x="-3" y="7">36</text></g>
<g id="e44" transform="translate(788,1236)"><use href="#b"/><use href="#z" x="20"/><path class="k" d="M2 -5 11 -3 18 4 25 6 33 -1 40 -5 47 -10 56 -1 65 4 74 8 81 13 90 9 97 16 104 18 111 27 118 24 121 22"/><path class="n" d="M2 -4 11 -2 18 2 25 3 33 0 40 -3 47 -6 56 -3 65 -4 74 -2 81 2 90 6 97 8 104 14 111 20 118 12 121 10"/><text class="l" x="-5" y="7">44</text></g>
<g id="e39" transform="translate(592,1279)"><use href="#b"/><use href="#z" x="20"/><path class="k" d="M1 -5 8 -3 15 4 21 11 26 4 31 16 36 4 43 -3 52 1 59 0 68 4 77 8 87 9 94 16 103 16 112 20 119 18"/><path class="n" d="M1 -6 13 1 23 -3 32 -8 41 -8 52 -3 59 -17 66 -22 73 -26 80 -24 87 -12 94 -10 101 -13 108 1 115 1 119 0"/><text class="l" x="-5" y="7">39</text></g>
</svg>
